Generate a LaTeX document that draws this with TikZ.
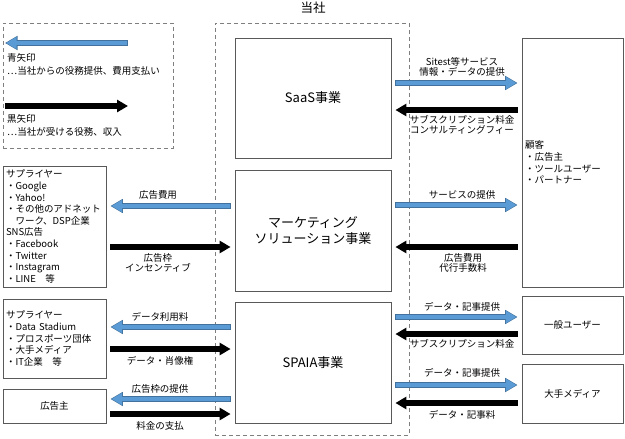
\documentclass[tikz,border=0pt]{standalone}
\usepackage{fontspec}
\setmainfont{Noto Sans CJK JP}
\usetikzlibrary{arrows.meta}
\definecolor{arrblue}{HTML}{5B9BD5}
\definecolor{arrline}{HTML}{41719C}
\definecolor{boxline}{HTML}{595959}
\definecolor{dashline}{HTML}{7F7F7F}
\begin{document}
\begin{tikzpicture}[x=1pt,y=-1pt,
	frame/.style={draw=dashline,line width=0.8pt,dash pattern=on 4pt off 3pt,inner sep=0pt},
	box/.style={draw=boxline,line width=0.8pt,inner sep=0pt,align=center,font=\fontsize{13}{15.5}\selectfont},
	smallbox/.style={draw=boxline,line width=0.8pt,inner sep=0pt,align=center,font=\fontsize{9.5}{11}\selectfont},
	listbox/.style={draw=boxline,line width=0.8pt,inner xsep=3pt,inner ysep=0pt,align=left,font=\fontsize{9.5}{11.6}\selectfont},
	lbl/.style={inner sep=0pt,align=center,font=\fontsize{9.5}{10.5}\selectfont},
	bluearr/.style={draw=arrblue,line width=4.4pt,-{Triangle[length=10.5pt,width=11.5pt]},shorten >=5.2pt,shorten <=4.8pt,
		preaction={draw=arrline,line width=6pt,-{Triangle[length=12.5pt,width=13.5pt]},shorten >=4pt,shorten <=4pt}},
	blackarr/.style={draw=black,line width=5.5pt,-{Triangle[length=11pt,width=12pt]},shorten >=4pt,shorten <=4pt}]
	\useasboundingbox (0,0) rectangle (625,439);
	\node[frame,minimum width=170,minimum height=125] (legend) at (88,85.5) {};
	\node[frame,minimum width=194,minimum height=412] (tousha) at (312,229) {};
	\node[font=\fontsize{12.5}{14}\selectfont] (toushahead) at (313,8) {当社};
	\coordinate (lgL) at (1,43);
	\coordinate (lgR) at (132,43);
	\coordinate (lgL2) at (1,106);
	\coordinate (lgR2) at (132,106);
	\draw[bluearr] (lgR) -- (lgL);
	\draw[blackarr] (lgL2) -- (lgR2);
	\node[lbl,anchor=west,align=left,font=\fontsize{9.5}{13}\selectfont] (lgblue) at (7,64.5) {青矢印\\…当社からの役務提供、費用支払い};
	\node[lbl,anchor=west,align=left,font=\fontsize{9.5}{13}\selectfont] (lgblack) at (7,125.5) {黒矢印\\…当社が受ける役務、収入};
	\node[box,minimum width=156,minimum height=120] (saas) at (313,98) {SaaS事業};
	\node[box,minimum width=156,minimum height=121] (mkt) at (313,230.5) {マーケティング\\ソリューション事業};
	\node[box,minimum width=156,minimum height=121] (spaia) at (313,362.5) {SPAIA事業};
	\node[listbox,text width=95,minimum height=249] (cust) at (572.5,162.5) {顧客\\・広告主\\・ツールユーザー\\・パートナー};
	\node[smallbox,minimum width=101,minimum height=58] (user) at (572.5,325) {一般ユーザー};
	\node[smallbox,minimum width=101,minimum height=59] (media) at (572.5,393.5) {大手メディア};
	\node[listbox,text width=97,minimum height=121] (sup1) at (54.5,226.5) {サプライヤー\\・Google\\・Yahoo!\\・その他のアドネット\\\quad ワーク、DSP企業\\SNS広告\\・Facebook\\・Twitter\\・Instagram\\・LINE\quad 等};
	\node[listbox,text width=97,minimum height=79] (sup2) at (54.5,338.5) {サプライヤー\\・Data Stadium\\・プロスポーツ団体\\・大手メディア\\・IT企業\quad 等};
	\node[smallbox,minimum width=103,minimum height=34] (adv) at (54.5,406) {広告主};
	\draw[bluearr] (saas.east |- 0,83) -- (cust.west |- 0,83);
	\draw[blackarr] (cust.west |- 0,110) -- (saas.east |- 0,110);
	\draw[bluearr] (mkt.east |- 0,205) -- (cust.west |- 0,205);
	\draw[blackarr] (cust.west |- 0,247) -- (mkt.east |- 0,247);
	\draw[bluearr] (mkt.west |- 0,206) -- (sup1.east |- 0,206);
	\draw[blackarr] (sup1.east |- 0,247) -- (mkt.west |- 0,247);
	\draw[bluearr] (spaia.west |- 0,327) -- (sup2.east |- 0,327);
	\draw[blackarr] (sup2.east |- 0,349) -- (spaia.west |- 0,349);
	\draw[bluearr] (spaia.west |- 0,399) -- (adv.east |- 0,399);
	\draw[blackarr] (adv.east |- 0,414) -- (spaia.west |- 0,414);
	\draw[bluearr] (spaia.east |- 0,317) -- (user.west |- 0,317);
	\draw[blackarr] (user.west |- 0,334) -- (spaia.east |- 0,334);
	\draw[bluearr] (spaia.east |- 0,385) -- (media.west |- 0,385);
	\draw[blackarr] (media.west |- 0,403) -- (spaia.east |- 0,403);
	\node[lbl] (saasgive) at (462,67) {Sitest等サービス\\情報・データの提供};
	\node[lbl] (saastake) at (462,125) {サブスクリプション料金\\コンサルティングフィー};
	\node[lbl] (mktgive) at (462,195) {サービスの提供};
	\node[lbl] (mkttake) at (463,263) {広告費用\\代行手数料};
	\node[lbl] (mktpay) at (158,195) {広告費用};
	\node[lbl] (mktget) at (158,263) {広告枠\\インセンティブ};
	\node[lbl] (spaiapay) at (160,317) {データ利用料};
	\node[lbl] (spaiaget) at (160,361) {データ・肖像権};
	\node[lbl] (spaiaslot) at (160,389) {広告枠の提供};
	\node[lbl] (spaiafee) at (160,426) {料金の支払};
	\node[lbl] (usergive) at (462,307) {データ・記事提供};
	\node[lbl] (usertake) at (462,344) {サブスクリプション料金};
	\node[lbl] (mediagive) at (462,373) {データ・記事提供};
	\node[lbl] (mediatake) at (462,415) {データ・記事料};
\end{tikzpicture}
\end{document}
